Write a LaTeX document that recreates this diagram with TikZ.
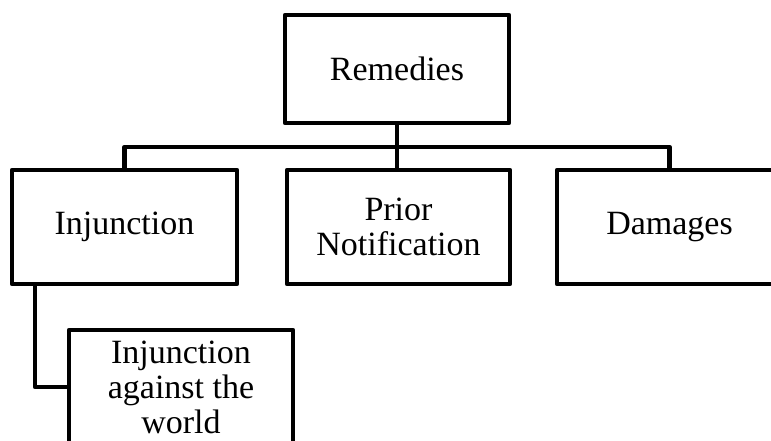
\documentclass[tikz,border=0pt]{standalone}
\usepackage{fontspec}
\setmainfont{Liberation Serif}
\begin{document}
\begin{tikzpicture}[x=1pt,y=-1pt,
  box/.style={draw,line width=4.5pt,line join=round,minimum width=225pt,minimum height=114pt,
    inner sep=0pt,outer sep=0pt,align=center,font=\fontsize{34}{35}\selectfont},
  conn/.style={line width=4.5pt,line join=round}]
\useasboundingbox (0,0) rectangle (771,440);
\clip (0,0) rectangle (771,440);
\node[box,minimum width=224pt,minimum height=108pt] (rem) at (397,69) {Remedies};
\node[box] (inj) at (124.5,227) {Injunction};
\node[box,minimum width=223pt] (pri) at (398.5,227) {Prior\\Notification};
\node[box] (dam) at (669.5,227) {Damages};
\node[box,minimum width=224pt] (low) at (181,387) {Injunction\\against the\\world};
\coordinate (bar) at (397,147);
\draw[conn] (rem.south) -- (rem.south |- pri.north);
\draw[conn] (inj.north) |- (bar) -| (dam.north);
\draw[conn] ([xshift=-89.5pt]inj.south) |- (low.west);
\end{tikzpicture}
\end{document}
